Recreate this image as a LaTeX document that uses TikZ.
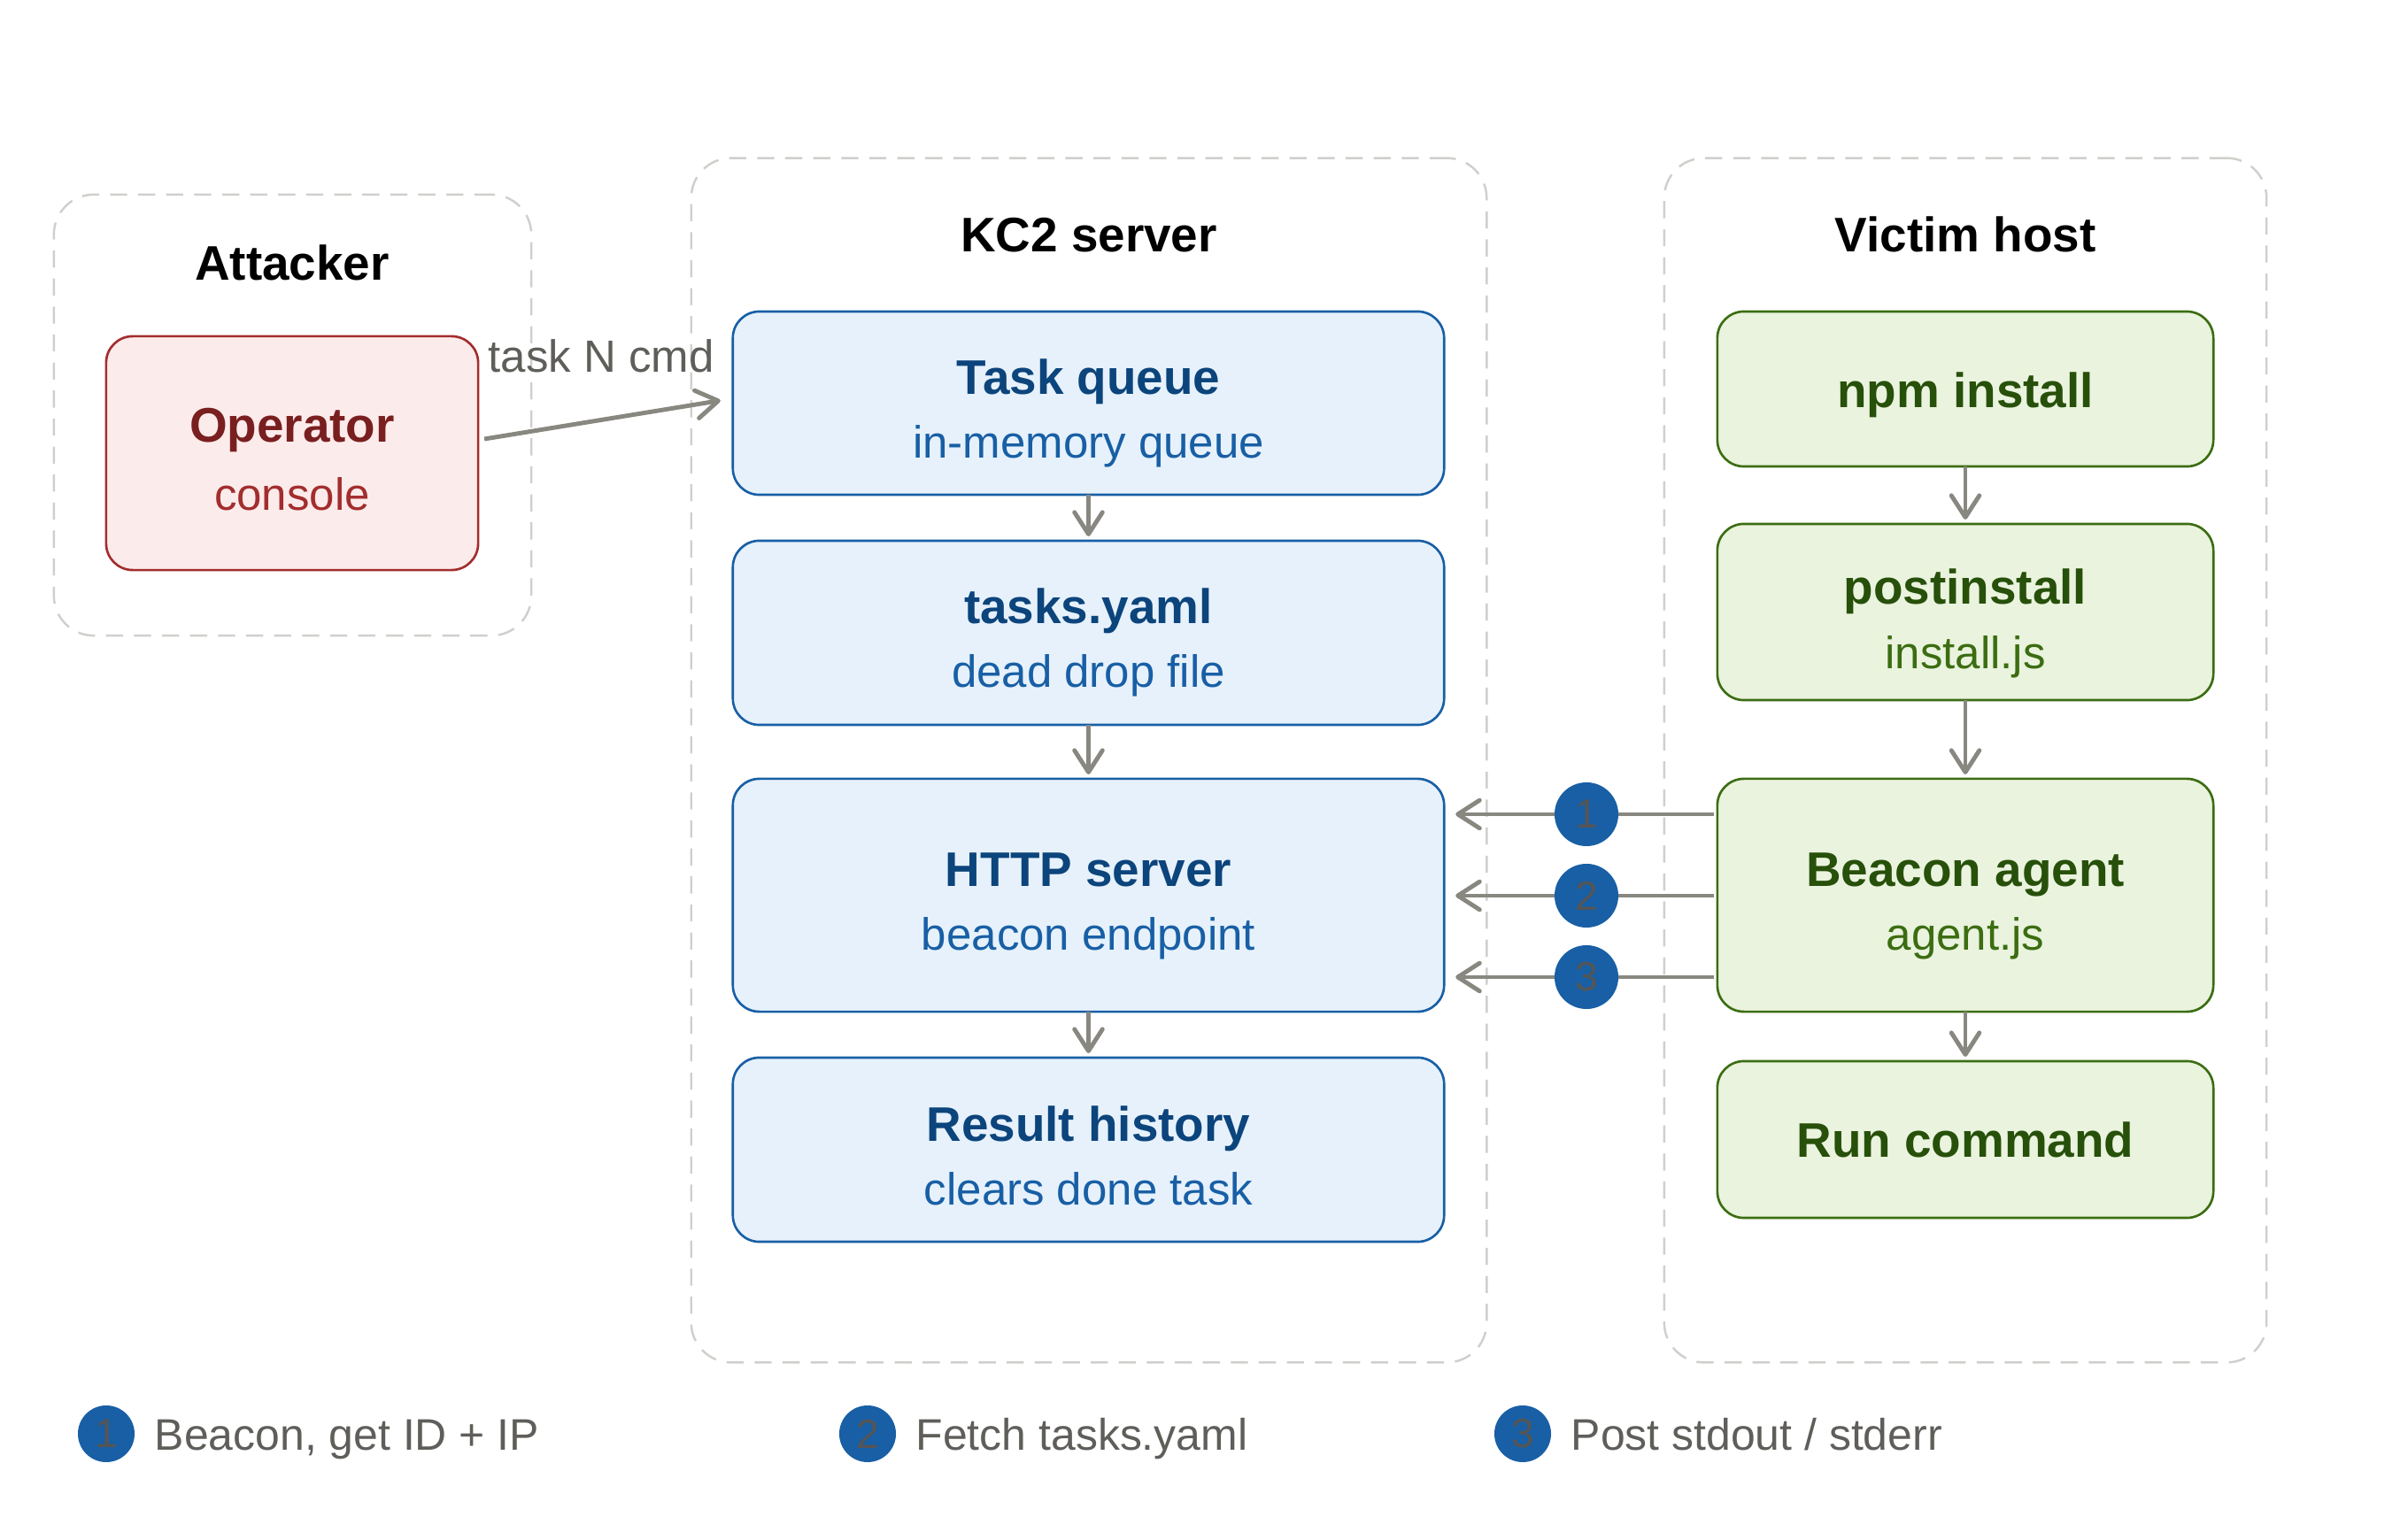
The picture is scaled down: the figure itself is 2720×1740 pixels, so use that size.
\documentclass[tikz,border=0pt]{standalone}
\usepackage{fontspec}
\setmainfont{Liberation Sans}
\usetikzlibrary{arrows.meta,calc}
\definecolor{bfill}{HTML}{E6F1FB}
\definecolor{bdraw}{HTML}{185FA5}
\definecolor{btitle}{HTML}{0C447C}
\definecolor{bsub}{HTML}{185FA5}
\definecolor{rfill}{HTML}{FCEBEB}
\definecolor{rdraw}{HTML}{A32D2D}
\definecolor{rtitle}{HTML}{791F1F}
\definecolor{rsub}{HTML}{A32D2D}
\definecolor{gfill}{HTML}{EAF3DE}
\definecolor{gdraw}{HTML}{3B6D11}
\definecolor{gtitle}{HTML}{27500A}
\definecolor{gsub}{HTML}{3B6D11}
\definecolor{arrgray}{HTML}{888780}
\definecolor{txtgray}{HTML}{5F5E5A}
\definecolor{grpgray}{HTML}{CFCFCC}
\definecolor{numfill}{HTML}{185FA5}
\definecolor{numtxt}{HTML}{555555}
\begin{document}
\begin{tikzpicture}[x=0.01cm,y=-0.01cm,
  grp/.style={draw=grpgray, line width=0.7pt, dash pattern=on 5.5pt off 3.5pt, rounded corners=0.45cm, inner sep=0pt, outer sep=0pt},
  boxbase/.style={rectangle, rounded corners=0.3cm, line width=0.75pt, inner sep=0pt, outer sep=0pt},
  bluebox/.style={boxbase, fill=bfill, draw=bdraw, minimum width=8.03cm},
  greenbox/.style={boxbase, fill=gfill, draw=gdraw, minimum width=5.6cm},
  redbox/.style={boxbase, fill=rfill, draw=rdraw, minimum width=4.2cm, minimum height=2.64cm},
  ttltext/.style={font=\fontsize{15.6}{18}\selectfont\bfseries, anchor=base, inner sep=0pt},
  subtext/.style={font=\fontsize{14.5}{17}\selectfont, anchor=base, inner sep=0pt},
  grptitle/.style={font=\fontsize{15.6}{18}\selectfont\bfseries, anchor=base, inner sep=0pt, text=black},
  arr/.style={draw=arrgray, line width=1.4pt, -{Straight Barb[length=7pt,width=9pt,round]}},
  numnode/.style={circle, fill=numfill, inner sep=0pt, minimum size=0.72cm, text=numtxt, font=\fontsize{13.1}{15}\selectfont},
  legnum/.style={circle, fill=numfill, inner sep=0pt, minimum size=0.64cm, text=numtxt, font=\fontsize{13.1}{15}\selectfont},
  legtext/.style={font=\fontsize{14.2}{17}\selectfont, text=txtgray, anchor=base west, inner sep=0pt}
]
\useasboundingbox (0,0) rectangle (2720,1740);

% group frames
\node[grp, minimum width=5.39cm, minimum height=4.98cm] (gatt) at (330.5,469) {};
\node[grp, minimum width=8.98cm, minimum height=13.6cm] (gkc2) at (1230,859) {};
\node[grp, minimum width=6.8cm, minimum height=13.6cm] (gvic) at (2220,859) {};

\node[grptitle] (tatt) at (330,317) {Attacker};
\node[grptitle] (tkc2) at (1230,285) {KC2 server};
\node[grptitle] (tvic) at (2220,285) {Victim host};

% attacker
\node[redbox] (op) at (330,512) {};
\node[ttltext, text=rtitle] (opt) at ($(op.center)+(0,-12)$) {Operator};
\node[subtext, text=rsub] (ops) at ($(op.center)+(0,65)$) {console};

% KC2 server boxes
\node[bluebox, minimum height=2.07cm] (tq) at (1229.5,455.5) {};
\node[ttltext, text=btitle] (tqt) at ($(tq.center)+(0,-10)$) {Task queue};
\node[subtext, text=bsub] (tqs) at ($(tq.center)+(0,62)$) {in-memory queue};

\node[bluebox, minimum height=2.08cm] (ty) at (1229.5,715) {};
\node[ttltext, text=btitle] (tyt) at ($(ty.center)+(0,-10)$) {tasks.yaml};
\node[subtext, text=bsub] (tys) at ($(ty.center)+(0,62)$) {dead drop file};

\node[bluebox, minimum height=2.63cm] (http) at (1229.5,1011.5) {};
\node[ttltext, text=btitle] (httpt) at ($(http.center)+(0,-10)$) {HTTP server};
\node[subtext, text=bsub] (https) at ($(http.center)+(0,62)$) {beacon endpoint};

\node[bluebox, minimum height=2.08cm] (rh) at (1229.5,1299) {};
\node[ttltext, text=btitle] (rht) at ($(rh.center)+(0,-10)$) {Result history};
\node[subtext, text=bsub] (rhs) at ($(rh.center)+(0,62)$) {clears done task};

% victim host boxes
\node[greenbox, minimum height=1.75cm] (npm) at (2220,439.5) {};
\node[ttltext, text=gtitle] (npmt) at ($(npm.center)+(0,21)$) {npm install};

\node[greenbox, minimum height=1.99cm] (post) at (2220,691.5) {};
\node[ttltext, text=gtitle] (postt) at ($(post.center)+(0,-9)$) {postinstall};
\node[subtext, text=gsub] (posts) at ($(post.center)+(0,64)$) {install.js};

\node[greenbox, minimum height=2.63cm] (beacon) at (2220,1011.5) {};
\node[ttltext, text=gtitle] (beacont) at ($(beacon.center)+(0,-10)$) {Beacon agent};
\node[subtext, text=gsub] (beacons) at ($(beacon.center)+(0,62)$) {agent.js};

\node[greenbox, minimum height=1.77cm] (run) at (2220,1287.5) {};
\node[ttltext, text=gtitle] (runt) at ($(run.center)+(0,20)$) {Run command};

% vertical flow arrows
\draw[arr] (tq.south) -- ($(ty.north)+(0,-5)$);
\draw[arr] (ty.south) -- ($(http.north)+(0,-5)$);
\draw[arr] (http.south) -- ($(rh.north)+(0,-5)$);
\draw[arr] (npm.south) -- ($(post.north)+(0,-5)$);
\draw[arr] (post.south) -- ($(beacon.north)+(0,-5)$);
\draw[arr] (beacon.south) -- ($(run.north)+(0,-5)$);

% operator -> task queue
\draw[arr] ($(op.east)+(7,-16)$) -- ($(tq.west)+(-14,-3)$);
\node[font=\fontsize{14.5}{17}\selectfont, text=txtgray, anchor=base, inner sep=0pt] (lbl) at (679,421) {task N cmd};

% beacon -> http arrows
\draw[arr] ($(beacon.west)+(-4,-91.5)$) -- ($(http.east)+(13,-91.5)$);
\draw[arr] ($(beacon.west)+(-4,0.5)$) -- ($(http.east)+(13,0.5)$);
\draw[arr] ($(beacon.west)+(-4,92.5)$) -- ($(http.east)+(13,92.5)$);
\node[numnode] (n1) at (1792,920) {1};
\node[numnode] (n2) at (1792,1012) {2};
\node[numnode] (n3) at (1792,1104) {3};

% legend
\node[legnum] (l1) at (120,1620) {1};
\node[legtext] (l1t) at (174,1638) {Beacon, get ID + IP};
\node[legnum] (l2) at (980,1620) {2};
\node[legtext] (l2t) at (1034,1638) {Fetch tasks.yaml};
\node[legnum] (l3) at (1720,1620) {3};
\node[legtext] (l3t) at (1774,1638) {Post stdout / stderr};
\end{tikzpicture}
\end{document}
